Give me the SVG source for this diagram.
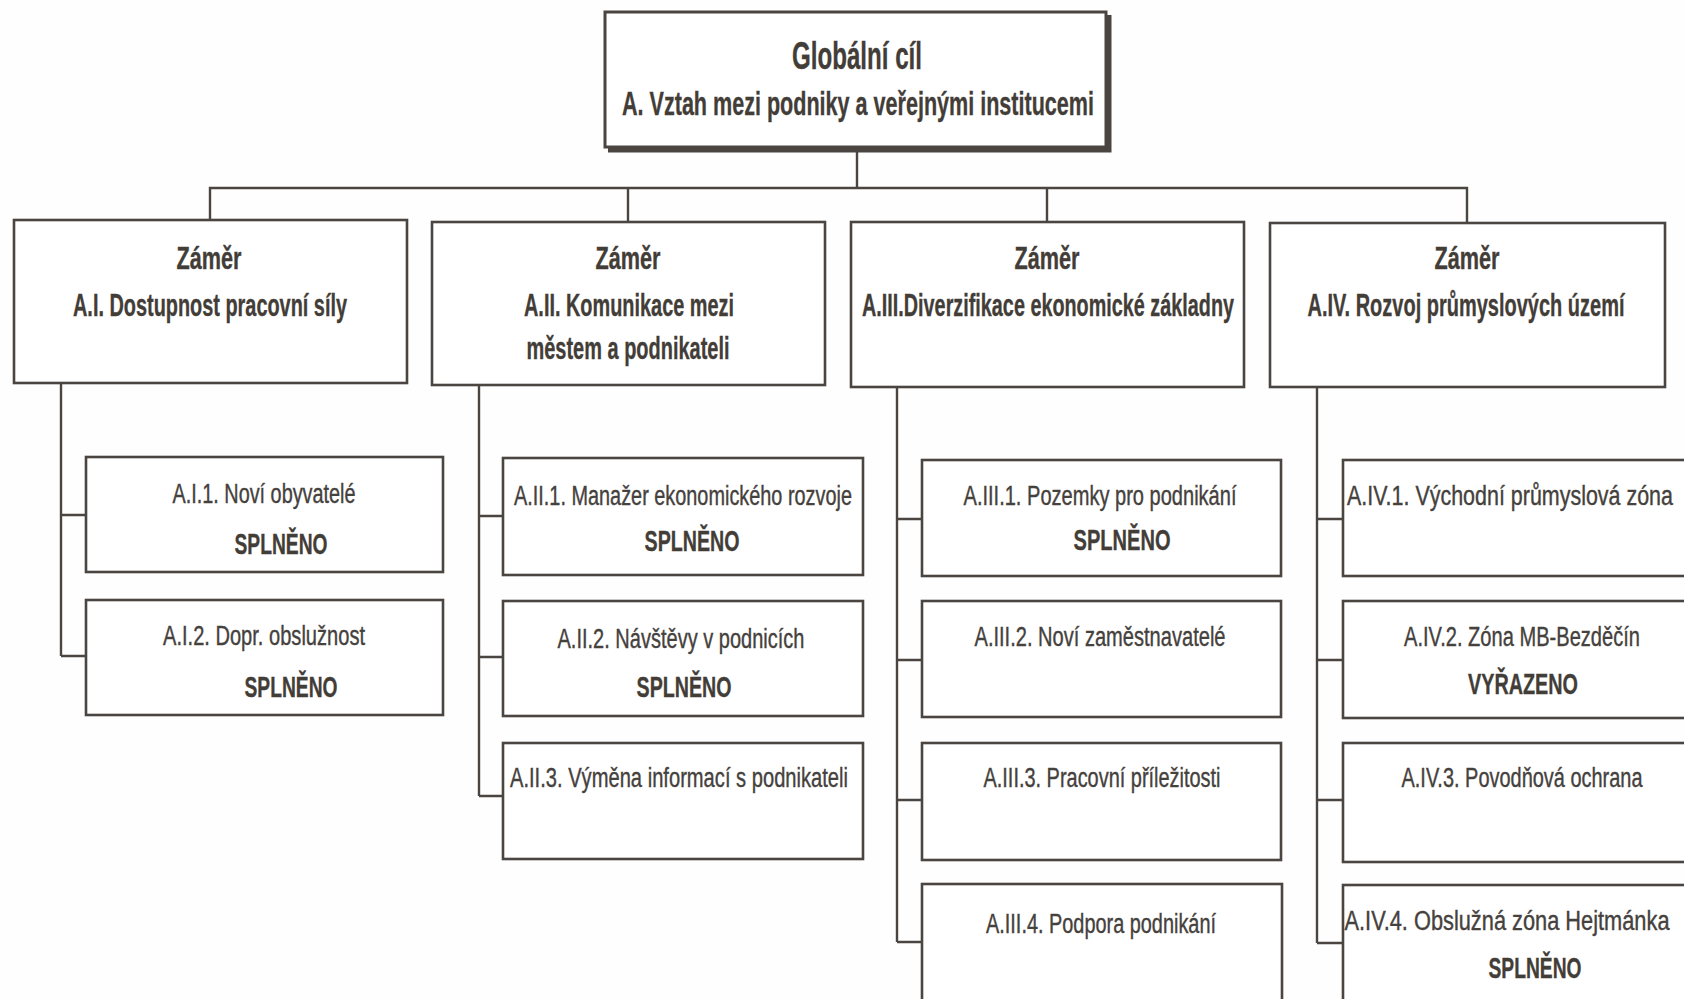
<svg xmlns="http://www.w3.org/2000/svg" width="1684" height="999" viewBox="0 0 1684 999">
<style>
.bg{fill:#fefefe}
.box{fill:#ffffff;stroke:#4a4541;stroke-width:2.6}
.ln{fill:none;stroke:#4a4541;stroke-width:2.4}
.h{font-family:"Liberation Sans",Arial,sans-serif;font-weight:bold;fill:#433d38;text-anchor:middle;stroke:#433d38;stroke-width:0.35}
.hz{font-size:32px}
.t{font-family:"Liberation Sans",Arial,sans-serif;fill:#45413d;text-anchor:middle;font-size:28px;stroke:#45413d;stroke-width:0.4}
.s{font-family:"Liberation Sans",Arial,sans-serif;font-weight:bold;fill:#433d38;text-anchor:middle;font-size:30px;stroke:#433d38;stroke-width:0.35}
</style>
<rect class="bg" x="0" y="0" width="1684" height="999"/>

<g id="connectors">
  <path class="ln" d="M857,148 V188 M210,221 V188 H1467 V223 M628,188 V222 M1047,188 V222"/>
  <path class="ln" d="M61,383 V656 M61,515 H86 M61,656 H86"/>
  <path class="ln" d="M479,385 V796 M479,516 H503 M479,657 H503 M479,796 H503"/>
  <path class="ln" d="M897,387 V942 M897,519 H922 M897,660 H922 M897,800 H922 M897,942 H922"/>
  <path class="ln" d="M1317,387 V943 M1317,519 H1343 M1317,660 H1343 M1317,800 H1343 M1317,943 H1343"/>
</g>

<g id="global">
  <path d="M608,150 H1109 V15" fill="none" stroke="#4a4541" stroke-width="5"/>
  <rect x="605" y="12" width="501" height="135" fill="#ffffff" stroke="#4a4541" stroke-width="3"/>
  <text class="h" transform="translate(857,69) scale(0.72,1)" font-size="39" textLength="180.6" lengthAdjust="spacingAndGlyphs">Globální cíl</text>
  <text class="h" transform="translate(858,115) scale(0.72,1)" font-size="34" textLength="655.6" lengthAdjust="spacingAndGlyphs">A. Vztah mezi podniky a veřejnými institucemi</text>
</g>

<g id="zamer-AI">
  <rect class="box" x="14" y="220" width="393" height="163"/>
  <text class="h hz" transform="translate(209,269) scale(0.72,1)" textLength="90.3" lengthAdjust="spacingAndGlyphs">Záměr</text>
  <text class="h hz" transform="translate(210,316) scale(0.72,1)" textLength="380.6" lengthAdjust="spacingAndGlyphs">A.I. Dostupnost pracovní síly</text>
</g>
<g id="zamer-AII">
  <rect class="box" x="432" y="222" width="393" height="163"/>
  <text class="h hz" transform="translate(628,269) scale(0.72,1)" textLength="90.3" lengthAdjust="spacingAndGlyphs">Záměr</text>
  <text class="h hz" transform="translate(629,316) scale(0.72,1)" textLength="291.7" lengthAdjust="spacingAndGlyphs">A.II. Komunikace mezi</text>
  <text class="h hz" transform="translate(628,359) scale(0.72,1)" textLength="281.9" lengthAdjust="spacingAndGlyphs">městem a podnikateli</text>
</g>
<g id="zamer-AIII">
  <rect class="box" x="851" y="222" width="393" height="165"/>
  <text class="h hz" transform="translate(1047,269) scale(0.72,1)" textLength="90.3" lengthAdjust="spacingAndGlyphs">Záměr</text>
  <text class="h hz" transform="translate(1048,316) scale(0.72,1)" textLength="516.7" lengthAdjust="spacingAndGlyphs">A.III.Diverzifikace ekonomické základny</text>
</g>
<g id="zamer-AIV">
  <rect class="box" x="1270" y="223" width="395" height="164"/>
  <text class="h hz" transform="translate(1467,269) scale(0.72,1)" textLength="90.3" lengthAdjust="spacingAndGlyphs">Záměr</text>
  <text class="h hz" transform="translate(1466,316) scale(0.72,1)" textLength="440.3" lengthAdjust="spacingAndGlyphs">A.IV. Rozvoj průmyslových území</text>
</g>

<g id="AI1">
  <rect class="box" x="86" y="457" width="357" height="115"/>
  <text class="t" transform="translate(264,503) scale(0.74,1)" textLength="247.3" lengthAdjust="spacingAndGlyphs">A.I.1. Noví obyvatelé</text>
  <text class="s" transform="translate(281,554) scale(0.72,1)" textLength="129.2" lengthAdjust="spacingAndGlyphs">SPLNĚNO</text>
</g>
<g id="AI2">
  <rect class="box" x="86" y="600" width="357" height="115"/>
  <text class="t" transform="translate(264,645) scale(0.74,1)" textLength="273" lengthAdjust="spacingAndGlyphs">A.I.2. Dopr. obslužnost</text>
  <text class="s" transform="translate(291,697) scale(0.72,1)" textLength="129.2" lengthAdjust="spacingAndGlyphs">SPLNĚNO</text>
</g>

<g id="AII1">
  <rect class="box" x="503" y="458" width="360" height="117"/>
  <text class="t" transform="translate(683,505) scale(0.74,1)" textLength="456.8" lengthAdjust="spacingAndGlyphs">A.II.1. Manažer ekonomického rozvoje</text>
  <text class="s" transform="translate(692,551) scale(0.72,1)" textLength="131.9" lengthAdjust="spacingAndGlyphs">SPLNĚNO</text>
</g>
<g id="AII2">
  <rect class="box" x="503" y="601" width="360" height="115"/>
  <text class="t" transform="translate(681,648) scale(0.74,1)" textLength="333.8" lengthAdjust="spacingAndGlyphs">A.II.2. Návštěvy v podnicích</text>
  <text class="s" transform="translate(684,697) scale(0.72,1)" textLength="131.9" lengthAdjust="spacingAndGlyphs">SPLNĚNO</text>
</g>
<g id="AII3">
  <rect class="box" x="503" y="743" width="360" height="116"/>
  <text class="t" transform="translate(679,787) scale(0.74,1)" textLength="456.8" lengthAdjust="spacingAndGlyphs">A.II.3. Výměna informací s podnikateli</text>
</g>

<g id="AIII1">
  <rect class="box" x="922" y="460" width="359" height="116"/>
  <text class="t" transform="translate(1100,505) scale(0.74,1)" textLength="368.9" lengthAdjust="spacingAndGlyphs">A.III.1. Pozemky pro podnikání</text>
  <text class="s" transform="translate(1122,550) scale(0.72,1)" textLength="134.7" lengthAdjust="spacingAndGlyphs">SPLNĚNO</text>
</g>
<g id="AIII2">
  <rect class="box" x="922" y="601" width="359" height="116"/>
  <text class="t" transform="translate(1100,646) scale(0.74,1)" textLength="339.2" lengthAdjust="spacingAndGlyphs">A.III.2. Noví zaměstnavatelé</text>
</g>
<g id="AIII3">
  <rect class="box" x="922" y="743" width="359" height="117"/>
  <text class="t" transform="translate(1102,787) scale(0.74,1)" textLength="320.3" lengthAdjust="spacingAndGlyphs">A.III.3. Pracovní příležitosti</text>
</g>
<g id="AIII4">
  <rect class="box" x="922" y="884" width="360" height="130"/>
  <text class="t" transform="translate(1101,933) scale(0.74,1)" textLength="310.8" lengthAdjust="spacingAndGlyphs">A.III.4. Podpora podnikání</text>
</g>

<g id="AIV1">
  <rect class="box" x="1343" y="460" width="360" height="116"/>
  <text class="t" transform="translate(1510,505) scale(0.74,1)" textLength="440.5" lengthAdjust="spacingAndGlyphs">A.IV.1. Východní průmyslová zóna</text>
</g>
<g id="AIV2">
  <rect class="box" x="1343" y="601" width="360" height="117"/>
  <text class="t" transform="translate(1522,646) scale(0.74,1)" textLength="318.9" lengthAdjust="spacingAndGlyphs">A.IV.2. Zóna MB-Bezděčín</text>
  <text class="s" transform="translate(1523,694) scale(0.72,1)" textLength="152.8" lengthAdjust="spacingAndGlyphs">VYŘAZENO</text>
</g>
<g id="AIV3">
  <rect class="box" x="1343" y="743" width="360" height="119"/>
  <text class="t" transform="translate(1522,787) scale(0.74,1)" textLength="325.7" lengthAdjust="spacingAndGlyphs">A.IV.3. Povodňová ochrana</text>
</g>
<g id="AIV4">
  <rect class="box" x="1343" y="885" width="360" height="130"/>
  <text class="t" transform="translate(1507,930) scale(0.74,1)" textLength="439.2" lengthAdjust="spacingAndGlyphs">A.IV.4. Obslužná zóna Hejtmánka</text>
  <text class="s" transform="translate(1535,978) scale(0.72,1)" textLength="129.2" lengthAdjust="spacingAndGlyphs">SPLNĚNO</text>
</g>
</svg>
